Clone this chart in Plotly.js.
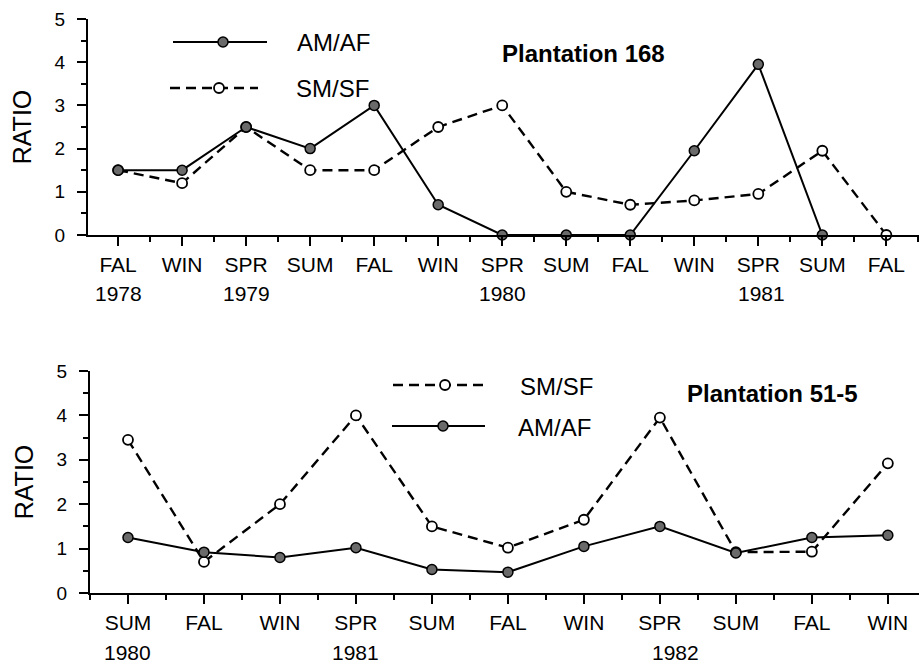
<!DOCTYPE html>
<html><head><meta charset="utf-8">
<script src="https://cdn.plot.ly/plotly-3.0.1.min.js"></script>
<style>html,body{margin:0;padding:0;background:#fff}#chart{width:919px;height:666px}</style>
</head><body><div id="chart"></div>
<script>
// ---- Plantation 168 (top) ----
const topSeasons = ['FAL','WIN','SPR','SUM','FAL','WIN','SPR','SUM','FAL','WIN','SPR','SUM','FAL'];
const topAMAF    = [1.5, 1.5, 2.5, 2.0, 3.0, 0.7, 0, 0, 0, 1.95, 3.95, 0, null];
const topSMSF    = [1.5, 1.2, 2.5, 1.5, 1.5, 2.5, 3.0, 1.0, 0.7, 0.8, 0.95, 1.95, 0];
const topYears   = ['1978','1979','1980','1981'];
const topYearPos = [0, 2, 6, 10.05];

// ---- Plantation 51-5 (bottom) ----
const botSeasons = ['SUM','FAL','WIN','SPR','SUM','FAL','WIN','SPR','SUM','FAL','WIN'];
const botSMSF    = [3.45, 0.7, 2.0, 4.0, 1.5, 1.02, 1.65, 3.95, 0.92, 0.93, 2.92];
const botAMAF    = [1.25, 0.92, 0.8, 1.02, 0.53, 0.47, 1.05, 1.5, 0.9, 1.25, 1.3];
const botYears   = ['1980','1981','1982'];
const botYearPos = [0, 3, 7.2];

const yTicks = [0,1,2,3,4,5];
const FONT = '"Liberation Sans", Arial, Helvetica, sans-serif';
const W = 919, H = 666;
const px = x => x / W;
const py = y => 1 - y / H;

const idx = arr => arr.map((_, i) => i);

const solidLine = {color:'#000', width:2};
const dashLine = {color:'#000', width:2.4, dash:'10px,6px'};
const filledMk = {symbol:'circle', size:10, color:'#6a6a6a', line:{color:'#000', width:1.5}};
const openMk = {symbol:'circle', size:10, color:'#fff', line:{color:'#000', width:1.8}};

const traces = [
  {x: idx(topSeasons), y: topSMSF, xaxis:'x', yaxis:'y', mode:'lines+markers', line:dashLine, marker:openMk, cliponaxis:false, name:'SM/SF'},
  {x: idx(topSeasons), y: topAMAF, xaxis:'x', yaxis:'y', mode:'lines+markers', line:solidLine, marker:filledMk, cliponaxis:false, name:'AM/AF'},
  {x: idx(botSeasons), y: botSMSF, xaxis:'x2', yaxis:'y2', mode:'lines+markers', line:dashLine, marker:openMk, cliponaxis:false, name:'SM/SF'},
  {x: idx(botSeasons), y: botAMAF, xaxis:'x2', yaxis:'y2', mode:'lines+markers', line:solidLine, marker:filledMk, cliponaxis:false, name:'AM/AF'}
];

function xAxis(seasons, domain, range, anchor){
  return {
    domain: domain, range: range, anchor: anchor,
    tickmode:'array', tickvals: idx(seasons), ticktext: seasons,
    ticks:'outside', ticklen:9, tickwidth:2, tickcolor:'#000',
    minor:{tickmode:'linear', tick0:-0.5, dtick:1, ticks:'outside', ticklen:5, tickwidth:2, tickcolor:'#000'},
    showline:true, linecolor:'#000', linewidth:2,
    showgrid:false, zeroline:false,
    tickfont:{family:FONT, size:21, color:'#000'},
    ticklabelstandoff: 1
  };
}
function yAxis(domain, anchor){
  return {
    domain: domain, range:[0,5], anchor: anchor,
    tickmode:'array', tickvals: yTicks,
    ticks:'outside', ticklen:9, tickwidth:2, tickcolor:'#000',
    minor:{tickmode:'linear', tick0:0.5, dtick:1, ticks:'outside', ticklen:5, tickwidth:2, tickcolor:'#000'},
    showline:true, linecolor:'#000', linewidth:2,
    showgrid:false, zeroline:false,
    tickfont:{family:FONT, size:19, color:'#000'},
    ticklabelstandoff: 8,
    title:{text:'RATIO', font:{family:FONT, size:25, color:'#000'}, standoff: 16}
  };
}

const annotations = [];
topYears.forEach((t,i)=>annotations.push({xref:'x', yref:'paper', x:topYearPos[i], y:py(294), text:t, showarrow:false, font:{family:FONT,size:21,color:'#000'}, xanchor:'center', yanchor:'middle'}));
botYears.forEach((t,i)=>annotations.push({xref:'x2', yref:'paper', x:botYearPos[i], y:py(652), text:t, showarrow:false, font:{family:FONT,size:21,color:'#000'}, xanchor:'center', yanchor:'middle'}));

// titles and legend texts
annotations.push({xref:'paper', yref:'paper', x:px(500), y:py(53), text:'<b>Plantation 168</b>', showarrow:false, xanchor:'left', yanchor:'middle', font:{family:FONT,size:24,color:'#000'}});
annotations.push({xref:'paper', yref:'paper', x:px(685), y:py(393), text:'<b>Plantation 51-5</b>', showarrow:false, xanchor:'left', yanchor:'middle', font:{family:FONT,size:24,color:'#000'}});
annotations.push({xref:'paper', yref:'paper', x:px(295), y:py(42), text:'AM/AF', showarrow:false, xanchor:'left', yanchor:'middle', font:{family:FONT,size:24,color:'#000'}});
annotations.push({xref:'paper', yref:'paper', x:px(294), y:py(88), text:'SM/SF', showarrow:false, xanchor:'left', yanchor:'middle', font:{family:FONT,size:24,color:'#000'}});
annotations.push({xref:'paper', yref:'paper', x:px(518), y:py(386), text:'SM/SF', showarrow:false, xanchor:'left', yanchor:'middle', font:{family:FONT,size:24,color:'#000'}});
annotations.push({xref:'paper', yref:'paper', x:px(516), y:py(427), text:'AM/AF', showarrow:false, xanchor:'left', yanchor:'middle', font:{family:FONT,size:24,color:'#000'}});

// legend samples
function legLine(x0,x1,y,dash){
  return {type:'line', xref:'paper', yref:'paper', x0:px(x0), x1:px(x1), y0:py(y), y1:py(y), line:{color:'#000', width: dash?2.4:2, dash: dash?'10px,6px':'solid'}};
}
function legDot(x,y,filled){
  const r=5;
  return {type:'circle', xref:'paper', yref:'paper', x0:px(x-r), x1:px(x+r), y0:py(y+r), y1:py(y-r), fillcolor: filled?'#6a6a6a':'#fff', line:{color:'#000', width: filled?1.5:1.8}};
}
const shapes = [
  legLine(173,267,42,false), legDot(223,42,true),
  legLine(170,258,88,true), legDot(219,88,false),
  legLine(393,483,385,true), legDot(445,385,false),
  legLine(392,485,426,false), legDot(443,426,true)
];

const layout = {
  width:W, height:H,
  margin:{l:0,r:0,t:0,b:0},
  paper_bgcolor:'#fff', plot_bgcolor:'#fff',
  showlegend:false,
  xaxis: xAxis(topSeasons, [px(88),1], [-0.47, 12.51], 'y'),
  yaxis: yAxis([py(235), py(19)], 'x'),
  xaxis2: xAxis(botSeasons, [px(90),1], [-0.5, 10.41], 'y2'),
  yaxis2: yAxis([py(593), py(371)], 'x2'),
  annotations: annotations,
  shapes: shapes,
  font:{family:FONT, color:'#000'}
};

Plotly.newPlot('chart', traces, layout, {displayModeBar:false, staticPlot:true});
</script>
</body></html>
